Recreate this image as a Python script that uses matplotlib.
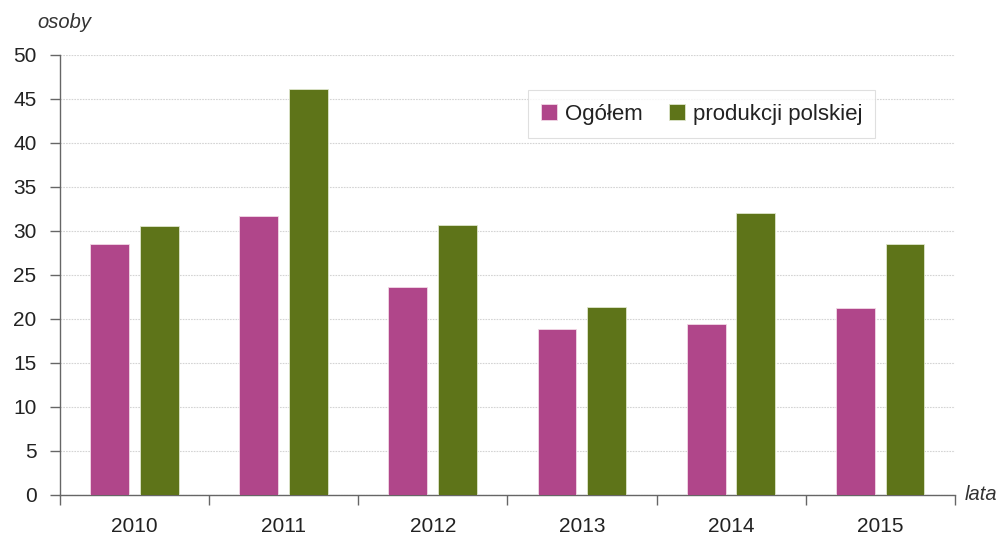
import matplotlib
matplotlib.use('Agg')
import matplotlib.pyplot as plt
import numpy as np

# data
years = ['2010', '2011', '2012', '2013', '2014', '2015']
ogolem = [28.5, 31.7, 23.6, 18.9, 19.4, 21.3]
polskie = [30.6, 46.1, 30.7, 21.4, 32.1, 28.5]

pink = '#B0468A'
green = '#5E7419'

plt.rcParams['font.family'] = ['Liberation Sans', 'DejaVu Sans']

fig = plt.figure(figsize=(9.99, 5.38), dpi=100)
ax = fig.add_axes([60 / 999, 43 / 538, 895 / 999, 440 / 538])

x = np.arange(len(years))
w = 0.26
ax.bar(x - 0.168, ogolem, w, color=pink, edgecolor='#f2d8e6', linewidth=0.6,
       label='Ogółem', zorder=3)
ax.bar(x + 0.165, polskie, w, color=green, edgecolor='#dfe6cc', linewidth=0.6,
       label='produkcji polskiej', zorder=3)

ax.set_xlim(-0.5, len(years) - 0.5)
ax.set_ylim(0, 50)
ax.set_yticks(range(0, 51, 5))
ax.yaxis.grid(True, color='#d4d4d4', linestyle=(0, (1.5, 1)), linewidth=0.8, zorder=0)

ax.set_xticks(x)
ax.set_xticklabels(years)
ax.set_xticks(np.arange(-0.5, len(years)), minor=True)
ax.tick_params(axis='x', which='major', length=0, labelsize=15, pad=16, colors='#222222')
ax.tick_params(axis='x', which='minor', length=7, width=1, color='#666666')
ax.tick_params(axis='y', length=7, width=1, color='#666666', labelsize=15,
               pad=10, labelcolor='#222222')

for s in ['top', 'right']:
    ax.spines[s].set_visible(False)
for s in ['left', 'bottom']:
    ax.spines[s].set_color('#666666')
    ax.spines[s].set_linewidth(1)

leg = ax.legend(loc='upper left', bbox_to_anchor=(0.523, 0.92), ncol=2,
                fontsize=16, frameon=True, fancybox=False, handlelength=0.7,
                handleheight=0.7, handletextpad=0.35, columnspacing=1.2,
                borderpad=0.6, edgecolor='#d8d8d8', borderaxespad=0)
leg.get_frame().set_linewidth(0.8)
for t in leg.get_texts():
    t.set_color('#222222')

fig.text(37 / 999, 1 - 22 / 538, 'osoby', fontsize=14.5, style='italic',
         color='#333333', va='center', ha='left')
fig.text(965 / 999, 1 - 494 / 538, 'lata', fontsize=14.5, style='italic',
         color='#333333', va='center', ha='left')

plt.savefig('out.png', dpi=100)
plt.close()
